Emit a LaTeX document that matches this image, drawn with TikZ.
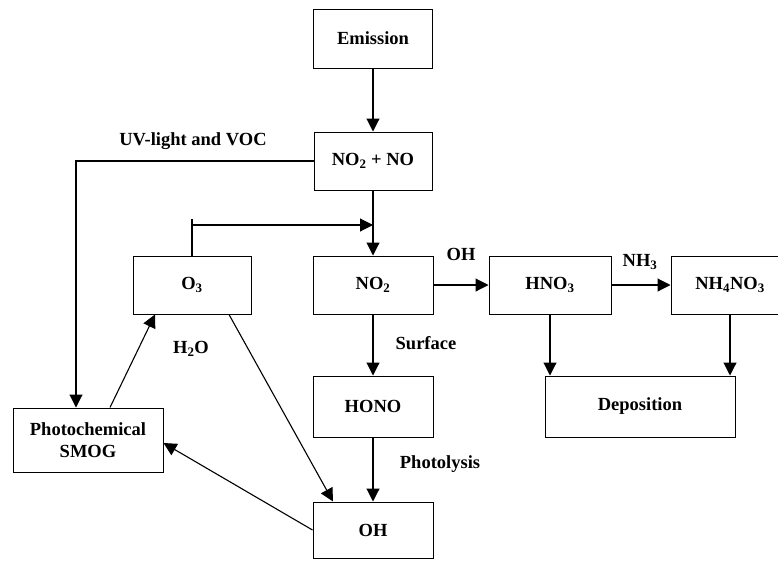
\documentclass[tikz,border=0pt]{standalone}
\usepackage{fontspec}
\setmainfont{Liberation Serif}
\usetikzlibrary{arrows.meta,positioning}
\begin{document}
\begin{tikzpicture}[x=1pt, y=-1pt, line width=1.1pt, >={Triangle[length=13pt,width=13pt]},
  main/.style = {draw, rectangle, line width=1pt, inner sep=2pt, align=center, font=\fontsize{18.5}{22}\selectfont\bfseries},
  lbl/.style = {font=\fontsize{18.5}{22}\selectfont\bfseries}]
\clip (0,0) rectangle (778,560);

\node[main, minimum width=119pt, minimum height=59pt] (emis) at (373,38.5) {Emission};
\node[main, minimum width=118pt, minimum height=58pt] (nox) at (373,161) {NO\textsubscript{2} + NO};
\node[main, minimum width=120pt, minimum height=58pt] (no2) at (373,285) {NO\textsubscript{2}};
\node[main, minimum width=118pt, minimum height=58pt] (o3) at (192,285) {O\textsubscript{3}};
\node[main, minimum width=122pt, minimum height=58pt] (hno3) at (550,285) {HNO\textsubscript{3}};
\node[main, minimum width=118pt, minimum height=58pt] (nh4no3) at (730,285) {NH\textsubscript{4}NO\textsubscript{3}};
\node[main, minimum width=120pt, minimum height=61pt] (hono) at (373,406.5) {HONO};
\node[main, minimum width=190pt, minimum height=61pt] (depo) at (640,406.5) {Deposition};
\node[main, minimum width=150pt, minimum height=64pt] (smog) at (88,440) {Photochemical\\SMOG};
\node[main, minimum width=120pt, minimum height=56pt] (oh) at (373,530) {OH};

\coordinate (uvc) at (76,161);
\coordinate (join) at (373,225);

\draw [->] (emis) -- (nox);
\draw [->] (nox) -- (no2);
\draw (o3.north) -- ++(0,-37);
\draw [->] (o3.north |- join) -- (join);
\draw [->] (nox.west) -- (uvc) -- (uvc |- smog.north);
\draw [->] ([xshift=22pt]smog.north) -- ([xshift=-37pt]o3.south);
\draw [->] ([xshift=37pt]o3.south) -- ([xshift=-40pt]oh.north);
\draw [->] (oh.west) -- ([yshift=-3pt]smog.east);
\draw [->] (no2) -- (hono);
\draw [->] (hono) -- (oh);
\draw [->] (no2) -- (hno3);
\draw [->] (hno3) -- (nh4no3);
\draw [->] (hno3.south) -- (hno3.south |- depo.north);
\draw [->] (nh4no3.south) -- (nh4no3.south |- depo.north);

\node[lbl] (uvtxt) at (193,141) {UV-light and VOC};
\node[lbl] (ohtxt) at (461,254) {OH};
\node[lbl] (nh3txt) at (640,262) {NH\textsubscript{3}};
\node[lbl] (surftxt) at (426,343) {Surface};
\node[lbl] (phottxt) at (440,464) {Photolysis};
\node[lbl] (h2otxt) at (191,349) {H\textsubscript{2}O};

\end{tikzpicture}
\end{document}
